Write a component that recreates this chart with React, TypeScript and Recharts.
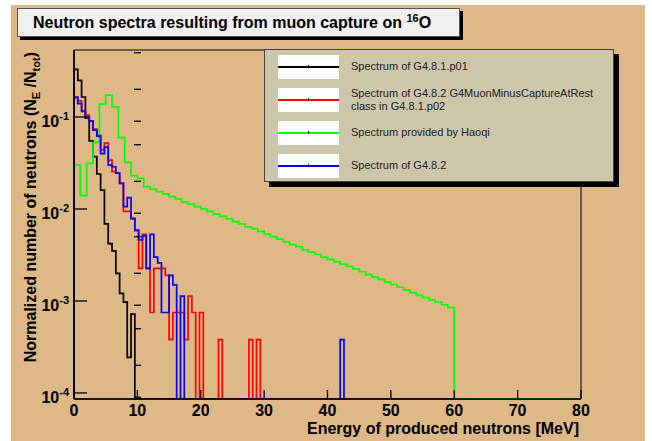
import { LineChart, Line, XAxis, YAxis, ReferenceArea } from "recharts";

const FONT = '"Liberation Sans", Arial, Helvetica, sans-serif';

// frame of the plot inside the 652x441 canvas
const PLOT_LEFT = 74;
const PLOT_TOP = 50;
const PLOT_RIGHT = 581;
const PLOT_BOTTOM = 399;

const X_MIN = 0;
const X_MAX = 80;
const Y_MIN = 8.6e-5;
const Y_MAX = 0.535;

// Geant4 spectra are binned in 0.6 MeV over 0-60 MeV, the reference one in 1 MeV over 0-80 MeV
const FINE_BIN = 0.6;
const FINE_NBINS = 100;
const COARSE_BIN = 1;
const COARSE_NBINS = 80;

// bin contents, normalized N_E / N_tot
const g4p01Counts = [
  0.33, 0.25, 0.165, 0.097, 0.055, 0.037, 0.024, 0.016, 0.0069, 0.0042,
  0.0035, 0.002, 0.00121, 0.00097, 0.000244, 0.00072,
];

const captureAtRestCounts = [
  0.16, 0.15, 0.117, 0.105, 0.091, 0.074, 0.063, 0.044, 0.052, 0.034,
  0.0255, 0.0245, 0.019, 0.0094, 0.0094, 0.0078, 0.0058, 0.00226, 0.0053, 0.00226,
  0.00075, 0.00226, 0.00226, 0.00226, 0.0019, 0.00038, 0.00075, 0.00075, 0.00075, 0.00038,
  0.00113, 0.00075, 0, 0.00075, 0, 0, 0, 0, 0.00038, 0,
  0, 0, 0, 0, 0, 0, 0.00038, 0, 0.00038,
];

const haoqiCounts = [
  0.03, 0.014, 0.0314, 0.053, 0.138, 0.173, 0.129, 0.0596, 0.0322, 0.023,
  0.0215, 0.0175, 0.0164, 0.0154, 0.0146, 0.0136, 0.0129, 0.0119, 0.0113, 0.0106,
  0.01, 0.0094, 0.0088, 0.0083, 0.0078, 0.0073, 0.0069, 0.0064, 0.0061, 0.0057,
  0.0053, 0.005, 0.0047, 0.0044, 0.0041, 0.0039, 0.0036, 0.0034, 0.0032, 0.003,
  0.00284, 0.00268, 0.00252, 0.00238, 0.00223, 0.00208, 0.00193, 0.00182, 0.00172, 0.0016,
  0.00151, 0.00141, 0.00132, 0.00123, 0.00115, 0.00109, 0.00103, 0.00097, 0.00091, 0.00085,
];

const g482Counts = [
  0.165, 0.14, 0.115, 0.1, 0.09, 0.072, 0.062, 0.04, 0.047, 0.03,
  0.0288, 0.0245, 0.019, 0.0106, 0.0133, 0.0079, 0.0059, 0.0046, 0.0051, 0.00226,
  0.0053, 0.003, 0.0026, 0.00075, 0.00075, 0.0019, 0.0015, 0, 0.00113, 0,
  0, 0, 0, 0, 0, 0, 0, 0, 0, 0,
  0, 0, 0, 0, 0, 0, 0, 0, 0, 0,
  0, 0, 0, 0, 0, 0, 0, 0, 0, 0,
  0, 0, 0, 0, 0, 0, 0, 0, 0, 0,
  0.00038,
];

const xMajorTicks = [0, 10, 20, 30, 40, 50, 60, 70, 80];
const yMajorTicks = [1e-4, 1e-3, 1e-2, 1e-1];

const xMinorTicks: number[] = [];
for (let t = 2; t < X_MAX; t += 2) if (t % 10 !== 0) xMinorTicks.push(t);

const yMinorTicks: number[] = [9e-5];
for (const decade of [1e-4, 1e-3, 1e-2, 1e-1]) {
  for (let m = 2; m <= 9; m++) {
    const v = m * decade;
    if (v < Y_MAX) yMinorTicks.push(+v.toPrecision(3));
  }
}

type Point = { e: number; v: number };

// histogram outline: empty bins sit on the bottom of the frame
function toSteps(counts: number[], width: number, nBins: number): Point[] {
  const lift = (c: number) => (c > 0 ? c : Y_MIN);
  const pts: Point[] = [{ e: 0, v: Y_MIN }];
  for (let i = 0; i < nBins; i++) {
    pts.push({ e: +(i * width).toFixed(3), v: lift(counts[i] ?? 0) });
  }
  const end = +(nBins * width).toFixed(3);
  pts.push({ e: end, v: lift(counts[nBins - 1] ?? 0) });
  pts.push({ e: end, v: Y_MIN });
  return pts;
}

const series = [
  {
    key: "p01",
    lines: ["Spectrum of G4.8.1.p01"],
    color: "#000000",
    points: toSteps(g4p01Counts, FINE_BIN, FINE_NBINS),
  },
  {
    key: "p02",
    lines: ["Spectrum of G4.8.2 G4MuonMinusCaptureAtRest", "class in G4.8.1.p02"],
    color: "#ff0000",
    points: toSteps(captureAtRestCounts, FINE_BIN, FINE_NBINS),
  },
  {
    key: "haoqi",
    lines: ["Spectrum provided by Haoqi"],
    color: "#00ff00",
    points: toSteps(haoqiCounts, COARSE_BIN, COARSE_NBINS),
  },
  {
    key: "g482",
    lines: ["Spectrum of G4.8.2"],
    color: "#0000ff",
    points: toSteps(g482Counts, FINE_BIN, FINE_NBINS),
  },
];

const emptyTick = () => <g />;

function XTickLabel(props: any) {
  const { x, payload } = props;
  return (
    <text
      x={x}
      y={PLOT_BOTTOM + 17}
      textAnchor="middle"
      fontFamily={FONT}
      fontWeight="bold"
      fontSize={16}
      fill="#000"
    >
      {payload.value}
    </text>
  );
}

function YTickLabel(props: any) {
  const { y, payload } = props;
  const exp = Math.round(Math.log10(payload.value));
  return (
    <text
      x={PLOT_LEFT - 5}
      y={y + 10}
      textAnchor="end"
      fontFamily={FONT}
      fontWeight="bold"
      fontSize={16}
      fill="#000"
    >
      10
      <tspan dy={-7} fontSize={11}>
        {exp}
      </tspan>
    </text>
  );
}

function LegendBox() {
  return (
    <div
      style={{
        position: "absolute",
        left: 264,
        top: 49,
        width: 348,
        height: 131,
        background: "#ccc6aa",
        border: "1px solid #444",
        boxShadow: "5px 5px 0 #000",
        fontFamily: FONT,
        fontSize: 11,
        color: "#222",
      }}
    >
      {series.map((s, i) => (
        <div
          key={s.key}
          style={{ position: "absolute", left: 0, top: 5 + i * 33, height: 24, width: "100%" }}
        >
          <div
            style={{
              position: "absolute",
              left: 13,
              top: 0,
              width: 61,
              height: 24,
              background: "#fff",
            }}
          >
            <div
              style={{
                position: "absolute",
                left: 0,
                top: 11,
                width: 61,
                height: 1.5,
                background: s.color,
              }}
            />
            <div
              style={{ position: "absolute", left: 30, top: 10, width: 1, height: 3, background: "#000" }}
            />
          </div>
          <div
            style={{
              position: "absolute",
              left: 86,
              top: s.lines.length > 1 ? -1 : 5,
              lineHeight: "13px",
              whiteSpace: "nowrap",
            }}
          >
            {s.lines.map((l) => (
              <div key={l}>{l}</div>
            ))}
          </div>
        </div>
      ))}
    </div>
  );
}

export default function App() {
  return (
    <div
      style={{
        position: "absolute",
        left: 0,
        top: 0,
        width: 652,
        height: 441,
        background: "#ffffff",
        overflow: "hidden",
      }}
    >
      <div
        style={{
          position: "absolute",
          left: 11,
          top: 5,
          width: 634,
          height: 436,
          background: "#deb887",
        }}
      />
      <div style={{ position: "absolute", left: 0, top: 0 }}>
        <LineChart
          width={652}
          height={441}
          margin={{
            top: PLOT_TOP,
            right: 652 - PLOT_RIGHT,
            bottom: 441 - PLOT_BOTTOM,
            left: PLOT_LEFT,
          }}
        >
          <XAxis
            xAxisId="x"
            type="number"
            dataKey="e"
            domain={[X_MIN, X_MAX]}
            allowDataOverflow
            ticks={xMajorTicks}
            mirror
            tickSize={9}
            tick={XTickLabel}
            axisLine={{ stroke: "#000", strokeWidth: 1.6 }}
            tickLine={{ stroke: "#000", strokeWidth: 1.3 }}
          />
          <XAxis
            xAxisId="xMinor"
            type="number"
            domain={[X_MIN, X_MAX]}
            allowDataOverflow
            ticks={xMinorTicks}
            mirror
            tickSize={5}
            tick={emptyTick}
            axisLine={false}
            tickLine={{ stroke: "#000", strokeWidth: 1.3 }}
          />
          <YAxis
            yAxisId="y"
            scale="log"
            domain={[Y_MIN, Y_MAX]}
            allowDataOverflow
            ticks={yMajorTicks}
            mirror
            tickSize={13}
            tick={YTickLabel}
            axisLine={{ stroke: "#000", strokeWidth: 1.6 }}
            tickLine={{ stroke: "#000", strokeWidth: 1.3 }}
          />
          <YAxis
            yAxisId="yMinor"
            scale="log"
            domain={[Y_MIN, Y_MAX]}
            allowDataOverflow
            ticks={yMinorTicks}
            mirror
            tickSize={7}
            tick={emptyTick}
            axisLine={false}
            tickLine={{ stroke: "#000", strokeWidth: 1.3 }}
          />
          <ReferenceArea
            xAxisId="x"
            yAxisId="y"
            x1={X_MIN}
            x2={X_MAX}
            y1={Y_MIN}
            y2={Y_MAX}
            fill="none"
            fillOpacity={0}
            stroke="#000"
            strokeWidth={1}
          />
          {series.map((s) => (
            <Line
              key={s.key}
              xAxisId="x"
              yAxisId="y"
              data={s.points}
              dataKey="v"
              type="stepAfter"
              stroke={s.color}
              strokeWidth={1.7}
              dot={false}
              activeDot={false}
              isAnimationActive={false}
            />
          ))}
        </LineChart>
      </div>
      <svg
        width={652}
        height={441}
        style={{ position: "absolute", left: 0, top: 0, pointerEvents: "none" }}
      >
        <text
          transform="translate(36,52) rotate(-90)"
          textAnchor="end"
          fontFamily={FONT}
          fontWeight="bold"
          fontSize={16}
          fill="#000"
        >
          Normalized number of neutrons (N
          <tspan dy={4} fontSize={11}>
            E
          </tspan>
          <tspan dy={-4}> /N</tspan>
          <tspan dy={4} fontSize={11}>
            tot
          </tspan>
          <tspan dy={-4}>)</tspan>
        </text>
        <text
          x={PLOT_RIGHT - 2}
          y={434}
          textAnchor="end"
          fontFamily={FONT}
          fontWeight="bold"
          fontSize={16}
          fill="#000"
        >
          Energy of produced neutrons [MeV]
        </text>
      </svg>
      <div
        style={{
          position: "absolute",
          left: 17,
          top: 8,
          width: 426,
          height: 27,
          background: "#f0f0f0",
          border: "1px solid #555",
          boxShadow: "3px 3px 0 #000",
          fontFamily: FONT,
          fontWeight: "bold",
          fontSize: 16,
          lineHeight: "27px",
          paddingLeft: 15,
          boxSizing: "content-box",
          whiteSpace: "nowrap",
        }}
      >
        Neutron spectra resulting from muon capture on{" "}
        <span style={{ fontSize: 11, position: "relative", top: -6 }}>16</span>O
      </div>
      <LegendBox />
    </div>
  );
}
